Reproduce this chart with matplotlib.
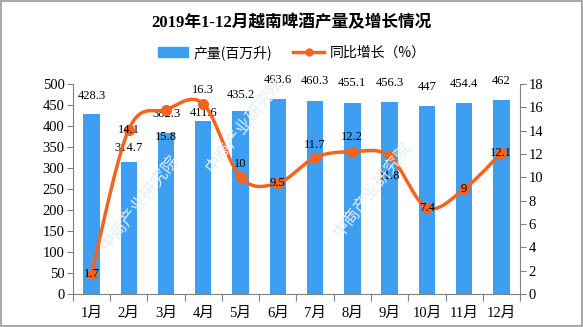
import numpy as np
import matplotlib.pyplot as plt
from matplotlib.lines import Line2D
from matplotlib.patches import Patch

months = ["1月", "2月", "3月", "4月", "5月", "6月", "7月", "8月", "9月", "10月", "11月", "12月"]
output = [428.3, 314.7, 382.3, 411.6, 435.2, 463.6, 460.3, 455.1, 456.3, 447, 454.4, 462]
growth = [1.7, 14.1, 15.8, 16.3, 10, 9.5, 11.7, 12.2, 11.8, 7.4, 9, 12.1]
output_labels = ["428.3", "314.7", "382.3", "411.6", "435.2", "463.6", "460.3", "455.1", "456.3", "447", "454.4", "462"]
growth_labels = ["1.7", "14.1", "15.8", "16.3", "10", "9.5", "11.7", "12.2", "11.8", "7.4", "9", "12.1"]

# where each growth label sits relative to its point (pixels)
growth_dy = [0, 0, -26, 13, 13, 0, 12, 14, -19, 0, 0, 0]
bar_dy = [13, 10, 14, 6, 12, 14, 14, 14, 14, 14, 14, 14]

BAR = "#3e9ef1"
LINE = "#f5641e"
CJK = ["Noto Sans CJK SC", "DejaVu Sans"]
NUM = ["Liberation Serif", "Noto Sans CJK SC"]


def smooth(x, y, n=30):
    # Catmull-Rom style smoothing, like the spreadsheet's smoothed line
    x = np.asarray(x, float)
    y = np.asarray(y, float)
    px = np.concatenate([[x[0]], x, [x[-1]]])
    py = np.concatenate([[y[0]], y, [y[-1]]])
    xs, ys = [], []
    t = np.linspace(0, 1, n)
    for i in range(1, len(px) - 2):
        p0x, p1x, p2x, p3x = px[i - 1:i + 3]
        p0y, p1y, p2y, p3y = py[i - 1:i + 3]
        c1x, c1y = p1x + (p2x - p0x) / 6, p1y + (p2y - p0y) / 6
        c2x, c2y = p2x - (p3x - p1x) / 6, p2y - (p3y - p1y) / 6
        bx = (1 - t) ** 3 * p1x + 3 * (1 - t) ** 2 * t * c1x + 3 * (1 - t) * t ** 2 * c2x + t ** 3 * p2x
        by = (1 - t) ** 3 * p1y + 3 * (1 - t) ** 2 * t * c1y + 3 * (1 - t) * t ** 2 * c2y + t ** 3 * p2y
        xs.append(bx)
        ys.append(by)
    return np.concatenate(xs), np.concatenate(ys)


fig = plt.figure(figsize=(5.83, 3.27), dpi=100)
fig.patch.set_facecolor("white")
fig.add_artist(plt.Rectangle((0.001, 0.002), 0.997, 0.995, transform=fig.transFigure,
                             fill=False, edgecolor="#9a9a9a", linewidth=1.2))

# faint watermark, kept inside the picture
for (wx, wy) in [(0.24, 0.38), (0.64, 0.42), (0.42, 0.62)]:
    fig.text(wx, wy, "中商产业研究院", rotation=52, fontsize=12, color="#e2eef8",
             family=CJK, ha="center", va="center", zorder=0)

ax = fig.add_axes([0.125, 0.101, 0.767, 0.642])
ax.patch.set_alpha(0)
x = np.arange(len(months))
ax.bar(x, output, width=0.44, color=BAR, zorder=2)
ax.set_xlim(-0.5, len(months) - 0.5)
ax.set_ylim(0, 500)
ax.set_yticks(np.arange(0, 501, 50))
ax.set_xticks(np.arange(-0.5, len(months), 1))
ax.set_xticklabels([])
ax.set_xticks(x, minor=True)
ax.set_xticklabels(months, minor=True, family=NUM, fontsize=10.5)
ax.tick_params(axis="x", which="minor", length=0, pad=9)
ax.tick_params(axis="x", which="major", length=5, color="#808080")
ax.tick_params(axis="y", length=4, color="#808080", labelsize=10.5, pad=2)
for lab in ax.get_yticklabels():
    lab.set_family(NUM)
for side in ["top", "right"]:
    ax.spines[side].set_visible(False)
for side in ["left", "bottom"]:
    ax.spines[side].set_color("#808080")

for xi, v, s, dy in zip(x, output, output_labels, bar_dy):
    ax.annotate(s, (xi, v), xytext=(0, dy), textcoords="offset points", ha="center",
                va="center", fontsize=9, family=NUM, zorder=5)

ax2 = ax.twinx()
ax2.set_ylim(0, 18)
ax2.set_yticks(np.arange(0, 19, 2))
ax2.tick_params(axis="y", length=4, color="#808080", labelsize=10.5, pad=2)
for lab in ax2.get_yticklabels():
    lab.set_family(NUM)
for side in ["top", "left", "bottom"]:
    ax2.spines[side].set_visible(False)
ax2.spines["right"].set_color("#808080")

sx, sy = smooth(x, growth)
ax2.plot(sx, sy, color=LINE, linewidth=2.5, zorder=3)
ax2.plot(x, growth, "o", color=LINE, markersize=7, zorder=4)
for xi, v, s, dy in zip(x, growth, growth_labels, growth_dy):
    ax2.annotate(s, (xi, v), xytext=(0, dy * 0.75), textcoords="offset points", ha="center",
                 va="center", fontsize=9, family=NUM, zorder=5)

fig.text(0.5, 0.93, "2019年1-12月越南啤酒产量及增长情况", ha="center", va="center",
         fontsize=12, fontweight="bold", family=NUM)

handles = [Patch(color=BAR), Line2D([0], [0], color=LINE, linewidth=2.5, marker="o", markersize=5)]
fig.legend(handles, ["产量(百万升)", "同比增长（%）"], loc="center", bbox_to_anchor=(0.5, 0.84),
           ncol=2, frameon=False, prop={"family": CJK, "size": 10}, handlelength=2.2,
           columnspacing=1.5, handletextpad=0.4)

fig.savefig("out.png", dpi=100)
